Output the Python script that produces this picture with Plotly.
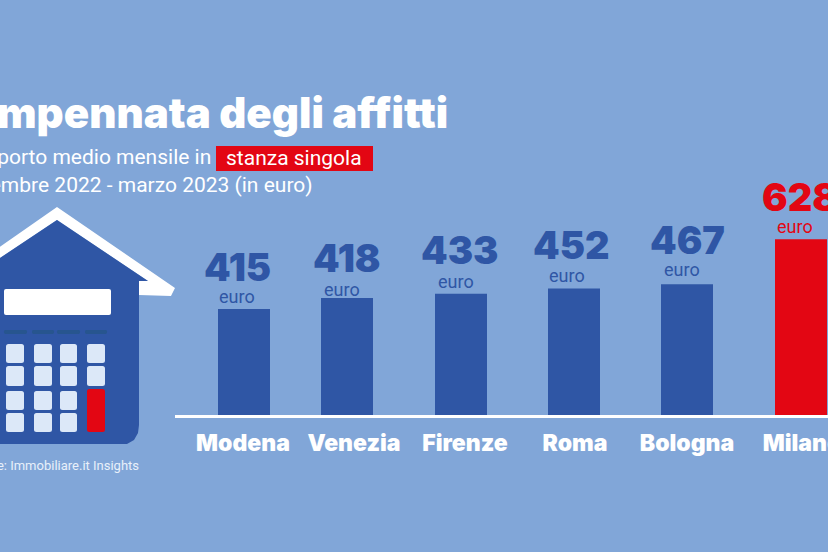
import plotly.graph_objects as go

W, H = 828, 552
cities = ["Modena", "Venezia", "Firenze", "Roma", "Bologna", "Milano"]
values = [415, 418, 433, 452, 467, 628]
# Drawn height of each bar (Modena's bar is drawn shorter than its label)
bar_heights = [379, 418, 433, 452, 467, 628]

BG, BLUE, RED, KEY, DASH = "#81A6D8", "#2F56A5", "#E30613", "#DCE8F8", "#27558F"
HEAVY = "Inter"
BODY = "Roboto"

bar_x = [244, 347, 461, 574, 687, 801]
label_x = [243, 354, 465, 575, 687, 802]
val_x = [237, 347, 460, 571, 687, 800]
val_y = [267, 258, 250, 245, 240, 197]
euro_x = [237, 342, 456, 567, 682, 795]
euro_y = [297, 289, 281, 275, 269, 227]
colors = [BLUE] * 5 + [RED]
BASE = 415
SCALE = 0.28


def px(x):
    return x / W


def py(y):
    return 1 - y / H


def poly(points, fill):
    d = "M" + " L".join(f"{px(x):.5f},{py(y):.5f}" for x, y in points) + " Z"
    return dict(type="path", xref="paper", yref="paper", path=d, fillcolor=fill, line_width=0, layer="below")


def rrect(x0, y0, x1, y1, r, fill):
    sx, sy = 1 / W, 1 / H
    X = lambda v: f"{v * sx:.5f}"
    Y = lambda v: f"{1 - v * sy:.5f}"
    d = (f"M{X(x0 + r)},{Y(y0)} L{X(x1 - r)},{Y(y0)} Q{X(x1)},{Y(y0)} {X(x1)},{Y(y0 + r)} "
         f"L{X(x1)},{Y(y1 - r)} Q{X(x1)},{Y(y1)} {X(x1 - r)},{Y(y1)} "
         f"L{X(x0 + r)},{Y(y1)} Q{X(x0)},{Y(y1)} {X(x0)},{Y(y1 - r)} "
         f"L{X(x0)},{Y(y0 + r)} Q{X(x0)},{Y(y0)} {X(x0 + r)},{Y(y0)} Z")
    return dict(type="path", xref="paper", yref="paper", path=d, fillcolor=fill, line_width=0, layer="above")


fig = go.Figure(go.Bar(x=bar_x, y=bar_heights, width=52, marker=dict(color=colors, line_width=0),
                       hoverinfo="skip"))

shapes = [
    poly([(-12, 255), (57, 207), (175, 288), (171, 296), (139, 295), (139, 281), (148, 281), (57, 220), (-12, 266)], "#FFFFFF"),
    poly([(-12, 266), (57, 220), (148, 281), (139, 281), (139, 425), (138, 433), (134, 440), (127, 444), (-12, 444)], BLUE),
    rrect(4, 289, 111, 315, 2, "#FFFFFF"),
    dict(type="rect", xref="paper", yref="paper", x0=px(216), x1=px(373), y0=py(171), y1=py(146),
         fillcolor=RED, line_width=0, layer="below"),
]
for a, b in [(4, 27), (32, 54), (57, 80), (85, 107)]:
    shapes.append(rrect(a, 330, b, 334, 1.5, DASH))
cols = [(6, 24), (34, 52), (60, 77), (87, 105)]
rows = [(344, 363), (366, 386), (391, 410), (413, 432)]
for i, (a, b) in enumerate(cols):
    for j, (c, d) in enumerate(rows):
        if i == 3 and j >= 2:
            continue
        shapes.append(rrect(a, c, b, d, 2.5, KEY))
shapes.append(rrect(87, 389, 105, 432, 2.5, RED))


def note(x, y, text, size, color, family=BODY, anchor="center", weight=None):
    return dict(xref="paper", yref="paper", x=px(x), y=py(y), text=text, showarrow=False,
                xanchor=anchor, yanchor="middle",
                font=dict(family=family, size=size, color=color, weight=weight),
                bgcolor="rgba(0,0,0,0)", borderpad=0)


ann = [
    note(449, 112, "L'impennata degli affitti", 42, "#FFFFFF", HEAVY, "right", 900),
    note(212, 157, "Importo medio mensile in", 21, "#FFFFFF", BODY, "right"),
    note(294, 158, "stanza singola", 21, "#FFFFFF"),
    note(314, 185, "settembre 2022 - marzo 2023 (in euro)", 21, "#FFFFFF", BODY, "right"),
    note(140, 465, "Fonte: Immobiliare.it Insights", 13, "#E8F0FA", BODY, "right"),
]
for v, vx, vy, ex, ey, c in zip(values, val_x, val_y, euro_x, euro_y, colors):
    ann.append(note(vx, vy, str(v), 38, c, HEAVY, "center", 900))
    ann.append(note(ex, ey, "euro", 18, c))

fig.update_layout(
    width=W, height=H, margin=dict(l=0, r=0, t=0, b=0, pad=0),
    paper_bgcolor=BG, plot_bgcolor=BG, showlegend=False,
    shapes=shapes, annotations=ann,
    xaxis=dict(domain=[175 / W, 1], range=[175, 828], tickmode="array", tickvals=label_x, ticktext=cities,
               showgrid=False, zeroline=False, showline=True, linecolor="#FFFFFF", linewidth=3,
               ticks="outside", ticklen=5, tickcolor="rgba(0,0,0,0)", automargin=False,
               ticklabeloverflow="allow",
               tickfont=dict(family=HEAVY, size=23, color="#FFFFFF", weight=900)),
    yaxis=dict(domain=[(H - BASE) / H, 1], range=[0, BASE / SCALE], visible=False),
)
fig.write_html("out.html", config={"displayModeBar": False},
               post_script="document.body.style.margin='0';document.documentElement.style.background='#81A6D8';")
